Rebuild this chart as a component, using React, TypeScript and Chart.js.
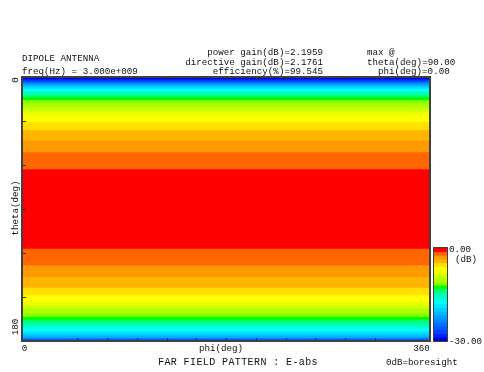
import React, { useEffect, useRef } from "react";
import { Chart, registerables } from "chart.js";

Chart.register(...registerables);

// theta band edges (deg) where the quantized far-field colour changes
const thetaEdges = [
  0, 1.2, 2.0, 2.6, 3.2, 3.9, 4.6, 5.3, 6.1, 7.0, 8.0, 9.2, 10.5, 11.9, 13.6,
  15.7, 18.4, 21.1, 23.5, 25.9, 30.7, 36.1, 43.0, 51.1, 62.7,
  116.8, 128.2, 136.2, 143.4, 148.6, 153.2, 155.6, 157.9, 160.6, 163.2, 165.6,
  167.6, 169.6, 171.6, 173.2, 174.6, 175.8, 176.8, 177.6, 178.2, 178.7, 179.1,
  179.5, 179.8, 180,
];

// E-abs level (dB) of each band between consecutive edges
const bandGainDb = [
  -29.4, -28.2, -27.0, -25.8, -24.6, -23.4, -22.2, -21.0, -19.8, -18.6, -17.4,
  -16.2, -15.0, -13.8, -12.6, -11.4, -10.2, -9.0, -7.8, -6.6, -5.4, -4.2, -3.0,
  -1.8,
  -0.6,
  -1.8, -3.0, -4.2, -5.4, -6.6, -7.8, -9.0, -10.2, -11.4, -12.6, -13.8, -15.0,
  -16.2, -17.4, -18.6, -19.8, -21.0, -22.2, -23.4, -24.6, -25.8, -27.0, -28.2,
  -29.4,
];

// colour scale, index 0 = 0 dB (top of colour bar)
const palette = [
  "#ff0000", "#ff6600", "#ff9900", "#ffb400", "#ffe000", "#ffff00", "#e8ff00",
  "#ccff00", "#b0ff00", "#90ff00", "#00ff00", "#00ff80", "#00ffb0", "#00ffd8",
  "#00ffff", "#00e8ff", "#00d0ff", "#00b8ff", "#00a0ff", "#0088ff", "#0070ff",
  "#0058ff", "#0040ff", "#0020ff", "#0000e0",
];
const dbMax = 0;
const dbMin = -30;

const phiTicks = [30, 60, 90, 120, 150, 180, 210, 240, 270, 300, 330];
const thetaTicks = [30, 60, 90, 120, 150];

function colorFor(db: number): string {
  const step = (dbMax - dbMin) / palette.length;
  let k = Math.floor((dbMax - db) / step + 1e-9);
  if (k < 0) k = 0;
  if (k > palette.length - 1) k = palette.length - 1;
  return palette[k];
}

const framePlugin = {
  id: "frameTicks",
  afterDatasetsDraw(chart: any) {
    const { ctx, chartArea: a, scales } = chart;
    ctx.save();
    ctx.strokeStyle = "#303030";
    ctx.lineWidth = 1;
    ctx.beginPath();
    for (const p of phiTicks) {
      const x = Math.round(scales.phi.getPixelForValue(p)) + 0.5;
      ctx.moveTo(x, a.top);
      ctx.lineTo(x, a.top + 3);
      ctx.moveTo(x, a.bottom);
      ctx.lineTo(x, a.bottom - 3);
    }
    for (const t of thetaTicks) {
      const y = Math.round(scales.y.getPixelForValue(t)) + 0.5;
      ctx.moveTo(a.left, y);
      ctx.lineTo(a.left + 4, y);
    }
    ctx.stroke();
    ctx.strokeStyle = "#404040";
    ctx.lineWidth = 2;
    ctx.strokeRect(a.left, a.top, a.right - a.left, a.bottom - a.top);
    ctx.restore();
  },
};

const barBorderPlugin = {
  id: "barBorder",
  afterDatasetsDraw(chart: any) {
    const { ctx, chartArea: a } = chart;
    ctx.save();
    ctx.strokeStyle = "#404040";
    ctx.lineWidth = 1;
    ctx.strokeRect(a.left - 0.5, a.top - 0.5, a.right - a.left + 1, a.bottom - a.top + 1);
    ctx.restore();
  },
};

type TextProps = {
  x: number;
  y: number;
  anchor?: "start" | "middle" | "end";
  rotate?: boolean;
  size?: number;
  spacing?: number;
  children: React.ReactNode;
};

function T({ x, y, anchor = "start", rotate = false, size = 9.2, spacing = 0, children }: TextProps) {
  const tx = anchor === "start" ? "0" : anchor === "middle" ? "-50%" : "-100%";
  return (
    <div
      style={{
        position: "absolute",
        left: x,
        top: y,
        transform: rotate ? "translate(-50%,-50%) rotate(-90deg)" : `translate(${tx},-50%)`,
        fontFamily: "'Liberation Mono', 'DejaVu Sans Mono', monospace",
        fontSize: size,
        letterSpacing: spacing,
        lineHeight: "11px",
        whiteSpace: "pre",
        color: "#111",
      }}
    >
      {children}
    </div>
  );
}

export default function App() {
  const mainRef = useRef<HTMLCanvasElement>(null);
  const barRef = useRef<HTMLCanvasElement>(null);

  useEffect(() => {
    const datasets = bandGainDb.map((g, i) => ({
      data: [[thetaEdges[i], thetaEdges[i + 1]]] as any,
      backgroundColor: colorFor(g),
      borderWidth: 0,
      grouped: false,
      barPercentage: 1,
      categoryPercentage: 1,
    }));
    const main = new Chart(mainRef.current!, {
      type: "bar",
      data: { labels: ["pattern"], datasets },
      options: {
        responsive: false,
        animation: false,
        events: [],
        layout: { padding: { left: 22, right: 54, top: 77, bottom: 31 } },
        plugins: { legend: { display: false }, tooltip: { enabled: false } },
        scales: {
          x: { type: "category", display: false },
          phi: { type: "linear", axis: "x", position: "bottom", min: 0, max: 360, display: false },
          y: { type: "linear", min: 0, max: 180, reverse: true, display: false },
        },
      } as any,
      plugins: [framePlugin],
    });

    const step = (dbMax - dbMin) / palette.length;
    const barSets = palette.map((c, i) => ({
      data: [[dbMax - (i + 1) * step, dbMax - i * step]] as any,
      backgroundColor: c,
      borderWidth: 0,
      grouped: false,
      barPercentage: 1,
      categoryPercentage: 1,
    }));
    const bar = new Chart(barRef.current!, {
      type: "bar",
      data: { labels: ["dB"], datasets: barSets },
      options: {
        responsive: false,
        animation: false,
        events: [],
        layout: { padding: 1 },
        plugins: { legend: { display: false }, tooltip: { enabled: false } },
        scales: {
          x: { type: "category", display: false },
          y: { type: "linear", min: dbMin, max: dbMax, display: false },
        },
      } as any,
      plugins: [barBorderPlugin],
    });

    return () => {
      main.destroy();
      bar.destroy();
    };
  }, []);

  return (
    <div
      style={{
        position: "fixed",
        left: 0,
        top: 0,
        width: 484,
        height: 372,
        background: "#fff",
        overflow: "hidden",
      }}
    >
      <canvas
        ref={mainRef}
        width={484}
        height={372}
        style={{ position: "absolute", left: 0, top: 0, width: 484, height: 372 }}
      />
      <canvas
        ref={barRef}
        width={15}
        height={95}
        style={{ position: "absolute", left: 433, top: 247, width: 15, height: 95 }}
      />

      <T x={22} y={58}>DIPOLE ANTENNA</T>
      <T x={22} y={70.7}>freq(Hz) = 3.000e+009</T>
      <T x={323} y={52.3} anchor="end">power gain(dB)=2.1959</T>
      <T x={323} y={61.7} anchor="end">directive gain(dB)=2.1761</T>
      <T x={323} y={70.7} anchor="end">efficiency(%)=99.545</T>
      <T x={367} y={52.3}>max @</T>
      <T x={367} y={61.7}>theta(deg)=90.00</T>
      <T x={378} y={70.7}>phi(deg)=0.00</T>

      <T x={15} y={79.5} rotate>0</T>
      <T x={15} y={208} rotate>theta(deg)</T>
      <T x={15} y={327} rotate>180</T>

      <T x={24.5} y={348} anchor="middle">0</T>
      <T x={221} y={348} anchor="middle">phi(deg)</T>
      <T x={421.5} y={348} anchor="middle">360</T>

      <T x={238} y={361.7} anchor="middle" size={10} spacing={0.4}>FAR FIELD PATTERN : E-abs</T>
      <T x={386} y={362}>0dB=boresight</T>

      <T x={449} y={249}>0.00</T>
      <T x={455} y={259}>(dB)</T>
      <T x={449} y={341}>-30.00</T>
    </div>
  );
}
